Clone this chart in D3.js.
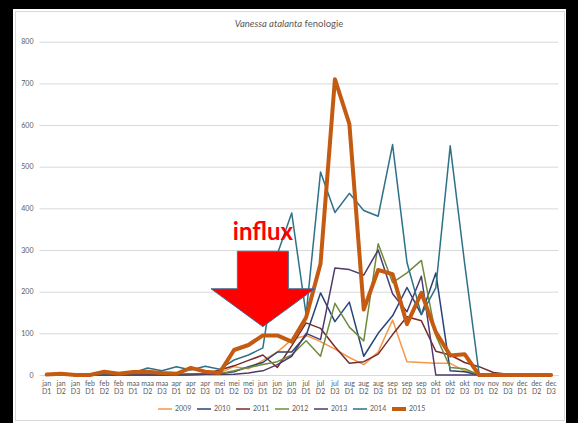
<!DOCTYPE html>
<html>
<head>
<meta charset="utf-8">
<script src="https://cdn.jsdelivr.net/npm/d3@7"></script>
<style>
  html, body { margin: 0; padding: 0; background: #000; }
  svg { display: block; }
  text { font-family: Lato, "Open Sans", sans-serif; }
</style>
</head>
<body>
<svg id="chart"></svg>
<script>
// category labels: month + decade
const months = ["jan", "feb", "maa", "apr", "mei", "jun", "jul", "aug", "sep", "okt", "nov", "dec"];
const decades = ["D1", "D2", "D3"];
const categories = months.flatMap(m => decades.map(d => m + " " + d));

const yTicks = [0, 100, 200, 300, 400, 500, 600, 700, 800];

// counts per decade, one array per year
const y2009 = [0,0,0,0,1,0,1,0,0,1,2,3, 5,20,15,35,55,85,95,80,62,42,25,55,132,32,30,28,28,10, 0,0,0,0,0,0];
const y2010 = [0,0,0,0,2,0,1,1,0,1,2,2, 3,8,20,30,55,55,95,197,128,175,45,100,142,210,145,245,10,8, 0,0,0,0,0,0];
const y2011 = [0,0,0,0,0,0,0,0,0,1,2,3, 12,22,35,48,18,70,125,112,68,28,32,50,97,140,130,57,48,30, 20,6,2,0,0,0];
const y2012 = [0,0,0,0,0,0,0,0,0,0,1,2, 3,10,18,25,32,48,82,45,172,115,82,315,222,245,275,95,18,15, 0,0,0,0,0,0];
const y2013 = [0,0,0,0,0,0,0,0,0,0,0,1, 1,2,5,10,25,45,100,85,257,253,240,300,195,152,237,0,0,0, 0,0,0,0,0,0];
const y2014 = [2,2,2,2,3,3,5,17,10,20,12,21, 14,36,48,65,290,389,145,487,390,436,395,381,553,270,145,209,550,268, 3,0,0,0,0,0];
const y2015 = [1,3,0,0,8,3,7,8,5,3,17,8, 5,60,72,95,95,80,138,267,710,603,157,252,242,122,197,103,47,50, 0,0,0,0,0,0];

const seriesNames = ["2009", "2010", "2011", "2012", "2013", "2014", "2015"];
const seriesValues = [y2009, y2010, y2011, y2012, y2013, y2014, y2015];
const seriesColors = ["#F79646", "#264478", "#772C2A", "#6E8B3D", "#4E3B6B", "#2E7189", "#C55A11"];

// "influx" arrow annotation, in data terms
const arrowCat = "jun D1";
const arrowTipValue = 116, arrowBaseValue = 207, arrowTopValue = 297, labelValue = 324;

const W = 578, H = 423;
const svg = d3.select("#chart").attr("width", W).attr("height", H);

// white chart area with light border
svg.append("rect").attr("x", 13).attr("y", 9).attr("width", 553).attr("height", H - 9).attr("fill", "#fff");
svg.append("rect").attr("x", 15.5).attr("y", 11.5).attr("width", 549).attr("height", 409)
    .attr("fill", "none").attr("stroke", "#D9D9D9");

const x = d3.scaleBand().domain(categories).range([39.5, 558.3]);
const cx = c => x(c) + x.bandwidth() / 2;
const y = d3.scaleLinear().domain([0, 800]).range([375, 41.7]);

// title
const title = svg.append("text").attr("x", 289).attr("y", 27).attr("text-anchor", "middle")
    .attr("font-size", 9.5).attr("fill", "#595959");
title.append("tspan").attr("font-style", "italic").text("Vanessa atalanta");
title.append("tspan").text(" fenologie");

// gridlines + y axis labels
const yAxis = svg.append("g").attr("transform", "translate(39.5,0)")
    .call(d3.axisLeft(y).tickValues(yTicks).tickSize(-(558.3 - 39.5)).tickPadding(6));
yAxis.select(".domain").remove();
yAxis.selectAll(".tick line").attr("stroke", "#D9D9D9");
yAxis.selectAll(".tick text").attr("font-size", 7).attr("fill", "#595959")
    .attr("font-family", "Lato, sans-serif");

// x axis, two-line labels
const xAxis = svg.append("g").attr("transform", "translate(0,375)")
    .call(d3.axisBottom(x).tickSize(0).tickPadding(6));
xAxis.select(".domain").attr("stroke", "#D9D9D9");
xAxis.selectAll(".tick text").each(function (d) {
    const t = d3.select(this).text("").attr("font-size", 7).attr("fill", "#595959")
        .attr("font-family", "Lato, sans-serif");
    const parts = d.split(" ");
    t.append("tspan").attr("x", 0).attr("dy", "0.71em").text(parts[0]);
    t.append("tspan").attr("x", 0).attr("dy", "1.2em").text(parts[1]);
});

// lines
const line = d3.line().x((d, i) => cx(categories[i])).y(d => y(d));
svg.append("g").selectAll("path")
    .data(seriesValues)
    .join("path")
    .attr("d", line)
    .attr("fill", "none")
    .attr("stroke", (d, i) => seriesColors[i])
    .attr("stroke-width", (d, i) => seriesNames[i] === "2015" ? 4 : 1.5)
    .attr("stroke-linejoin", "round")
    .attr("stroke-linecap", "round");

// arrow
const ax = cx(arrowCat), bw = x.bandwidth();
const headHalf = bw * 3.6, shaftHalf = bw * 1.77;
const arrowPts = [
    [ax - shaftHalf, y(arrowTopValue)], [ax + shaftHalf, y(arrowTopValue)],
    [ax + shaftHalf, y(arrowBaseValue)], [ax + headHalf, y(arrowBaseValue)],
    [ax, y(arrowTipValue)],
    [ax - headHalf, y(arrowBaseValue)], [ax - shaftHalf, y(arrowBaseValue)]
];
svg.append("path").attr("d", d3.line()(arrowPts) + "Z")
    .attr("fill", "#FF0000").attr("stroke", "#41719C").attr("stroke-width", 1);

svg.append("text").attr("x", ax).attr("y", y(labelValue)).attr("text-anchor", "middle")
    .attr("font-family", "'Liberation Sans', Arial, sans-serif")
    .attr("font-weight", "bold").attr("font-size", 24).attr("fill", "#FF0000").text("influx");

// legend
const legend = svg.append("g").selectAll("g")
    .data(seriesNames)
    .join("g")
    .attr("transform", (d, i) => `translate(${158 + i * 39},409)`);
legend.append("line").attr("x1", 0).attr("x2", 14)
    .attr("stroke", (d, i) => seriesColors[i])
    .attr("stroke-width", d => d === "2015" ? 4 : 1.5);
legend.append("text").attr("x", 17).attr("dy", "0.35em")
    .attr("font-size", 7).attr("fill", "#595959").text(d => d);
</script>
</body>
</html>
